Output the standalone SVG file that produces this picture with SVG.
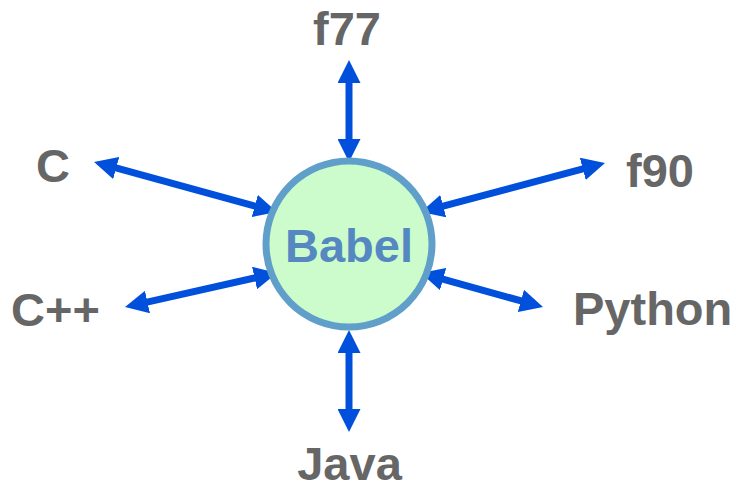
<svg xmlns="http://www.w3.org/2000/svg" width="736" height="490" viewBox="0 0 736 490">
  <style>
    .label { font-family: "Liberation Sans", Arial, sans-serif; font-weight: bold; font-size: 47px; fill: #666666; }
    .hub-text { font-family: "Liberation Sans", Arial, sans-serif; font-weight: bold; font-size: 47px; fill: #5588c0; }
    .link { stroke: #0050dc; stroke-width: 7; fill: none; marker-start: url(#head); marker-end: url(#head); }
  </style>
  <defs>
    <marker id="head" viewBox="0 0 23 23" refX="5" refY="11.5" markerWidth="23" markerHeight="23" markerUnits="userSpaceOnUse" orient="auto-start-reverse">
      <path d="M0,0 L23,11.5 L0,23 z" fill="#0050dc"/>
    </marker>
  </defs>
  <rect width="736" height="490" fill="#ffffff"/>

  <!-- double-headed links between the hub and each language -->
  <g id="connectors">
    <line class="link" x1="349" y1="78" x2="349" y2="144"/>
    <line class="link" x1="349" y1="348" x2="349" y2="414"/>
    <line class="link" x1="111.4" y1="166.7" x2="259.6" y2="207.3"/>
    <line class="link" x1="142.6" y1="303.1" x2="259.4" y2="276.9"/>
    <line class="link" x1="438.4" y1="207.4" x2="587.6" y2="167.6"/>
    <line class="link" x1="438.3" y1="277.8" x2="525.7" y2="302.2"/>
  </g>

  <g id="babel">
    <circle cx="349" cy="244" r="83" fill="#ccfccc" stroke="#5f9fc9" stroke-width="7"/>
    <text class="hub-text" x="349" y="262" text-anchor="middle">Babel</text>
  </g>

  <g id="f77"><text class="label" x="313" y="45">f77</text></g>
  <g id="java"><text class="label" x="349.5" y="480" text-anchor="middle">Java</text></g>
  <g id="c"><text class="label" x="36" y="182">C</text></g>
  <g id="cpp"><text class="label" x="11" y="326">C++</text></g>
  <g id="f90"><text class="label" x="626" y="187">f90</text></g>
  <g id="python"><text class="label" x="573" y="325">Python</text></g>
</svg>
